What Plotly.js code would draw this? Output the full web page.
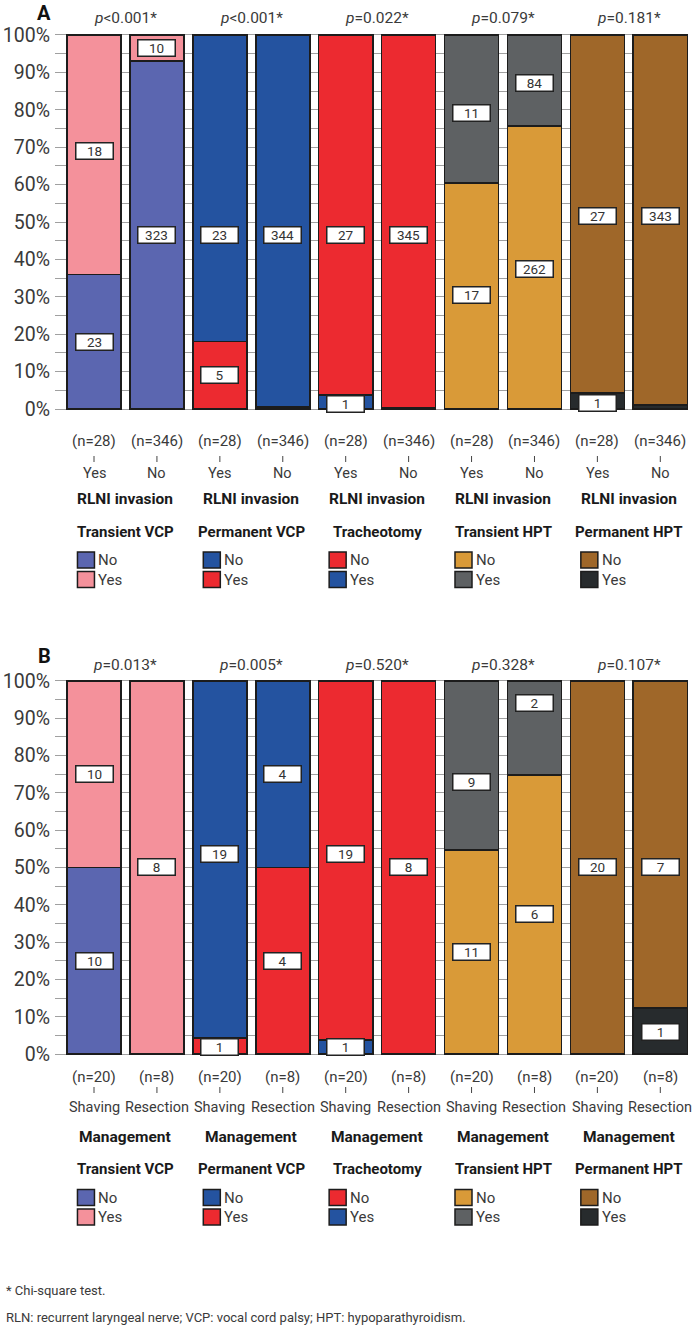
<!DOCTYPE html>
<html>
<head>
<meta charset="utf-8">
<script src="https://cdn.plot.ly/plotly-3.0.1.min.js"></script>
<style>
  html, body { margin: 0; padding: 0; background: #fff; }
  #chart { width: 698px; height: 1331px; }
</style>
</head>
<body>
<div id="chart"></div>
<script>
// ---------------- data ----------------
const outcomes = ["Transient VCP", "Permanent VCP", "Tracheotomy", "Transient HPT", "Permanent HPT"];
const bottomIsNo = [true, false, false, true, false];
const noColors  = ["#5b66b0", "#2453a0", "#ec2a30", "#d99a38", "#9f6729"];
const yesColors = ["#f4919b", "#ec2a30", "#2453a0", "#5e6163", "#272b2d"];

// Panel A: RLNI invasion
const pValuesA = ["&lt;0.001*", "&lt;0.001*", "=0.022*", "=0.079*", "=0.181*"];
const groupsA = ["Yes", "No"];
const nA = ["(n=28)", "(n=346)"];
const factorA = "RLNI invasion";
const aBottomPct = [36, 93, 18, 0.6, 3.7, 0.3, 60.4, 75.7, 4.3, 1.1];
const aTopPct    = [64, 7, 82, 99.4, 96.3, 99.7, 39.6, 24.3, 95.7, 98.9];
const aBottomLabel = ["23", "323", "5", "2", "1", "1", "17", "262", "1", "3"];
const aTopLabel    = ["18", "10", "23", "344", "27", "345", "11", "84", "27", "343"];
const aBottomLabelAt = [17.8, 46.5, 9, -2.2, 1.4, -2.2, 30.5, 37.4, 1.6, -1.1];
const aTopLabelAt    = [69.1, 96.5, 46.5, 46.5, 46.5, 46.5, 79.2, 87.2, 51.6, 51.6];

// Panel B: Management
const pValuesB = ["=0.013*", "=0.005*", "=0.520*", "=0.328*", "=0.107*"];
const groupsB = ["Shaving", "Resection"];
const nB = ["(n=20)", "(n=8)"];
const factorB = "Management";
const bBottomPct = [50, 0, 4.3, 50, 3.8, 0, 54.7, 74.8, 0, 12.3];
const bTopPct    = [50, 100, 95.7, 50, 96.2, 100, 45.3, 25.2, 100, 87.7];
const bBottomLabel = ["10", "", "1", "4", "1", "", "11", "6", "", "1"];
const bTopLabel    = ["10", "8", "19", "4", "19", "8", "9", "2", "20", "7"];
const bBottomLabelAt = [25, null, 2, 25, 2, null, 27.3, 37.4, null, 6];
const bTopLabelAt    = [75, 50, 53.5, 75, 53.5, 50, 73, 94, 50, 50];

const footnotes = ["* Chi-square test.", "RLN: recurrent laryngeal nerve; VCP: vocal cord palsy; HPT: hypoparathyroidism."];

// ---------------- layout helpers ----------------
const W = 698, H = 1331;
const FONT = "Roboto, 'Liberation Sans', sans-serif";
const TXT = "#3a3a3a";
const py = p => 1 - p / H;
const barIdx = [0,1,2,3,4,5,6,7,8,9];
const UNIT = 62.9; // px per category

const panels = [
  { xa: "x", ya: "y", letter: "A", bottom: aBottomPct, top: aTopPct, bl: aBottomLabel, tl: aTopLabel,
    blAt: aBottomLabelAt, tlAt: aTopLabelAt, pvals: pValuesA, groups: groupsA, ns: nA, factor: factorA,
    rows: { letter: 13, p: 18, n: 441, tick: [456, 462], grp: 474, factor: 499, outcome: 532, leg1: 560, leg2: 579.5 } },
  { xa: "x2", ya: "y2", letter: "B", bottom: bBottomPct, top: bTopPct, bl: bBottomLabel, tl: bTopLabel,
    blAt: bBottomLabelAt, tlAt: bTopLabelAt, pvals: pValuesB, groups: groupsB, ns: nB, factor: factorB,
    rows: { letter: 656, p: 665, n: 1077, tick: [1087, 1093], grp: 1107, factor: 1137, outcome: 1169, leg1: 1197.5, leg2: 1217 } }
];

const traces = [];
const annotations = [];
const shapes = [];

panels.forEach(P => {
  const bCol = barIdx.map(i => { const k = Math.floor(i / 2); return bottomIsNo[k] ? noColors[k] : yesColors[k]; });
  const tCol = barIdx.map(i => { const k = Math.floor(i / 2); return bottomIsNo[k] ? yesColors[k] : noColors[k]; });
  [[P.bottom, bCol], [P.top, tCol]].forEach(([vals, cols]) => {
    traces.push({
      type: "bar", x: barIdx, y: vals, xaxis: P.xa, yaxis: P.ya, width: 0.86,
      marker: { color: cols, line: { color: "#1c1c1c", width: 1.6 } },
      hoverinfo: "skip", showlegend: false
    });
  });
  // value labels
  barIdx.forEach(i => {
    [[P.bl[i], P.blAt[i]], [P.tl[i], P.tlAt[i]]].forEach(([t, at]) => {
      if (!t || at === null) return;
      annotations.push({
        xref: P.xa, yref: P.ya, x: i, y: at, text: t, showarrow: false,
        bgcolor: "#ffffff", bordercolor: "#222", borderwidth: 1.5, borderpad: 1,
        width: 34, height: 13, font: { family: FONT, size: 13.5, color: "#333" }
      });
    });
    // n labels and group labels
    annotations.push({ xref: P.xa, yref: "paper", x: i, y: py(P.rows.n), text: P.ns[i % 2], showarrow: false,
      font: { family: FONT, size: 15, color: TXT }, yanchor: "middle" });
    annotations.push({ xref: P.xa, yref: "paper", x: i, y: py(P.rows.grp), text: P.groups[i % 2], showarrow: false,
      font: { family: FONT, size: 14.5, color: TXT }, yanchor: "middle" });
    shapes.push({ type: "line", xref: P.xa, yref: "paper", x0: i, x1: i, y0: py(P.rows.tick[0]), y1: py(P.rows.tick[1]),
      line: { color: "#444", width: 1 } });
  });
  outcomes.forEach((o, k) => {
    const c = 2 * k + 0.5;
    annotations.push({ xref: P.xa, yref: "paper", x: c, y: py(P.rows.p), text: "<i>p</i>" + P.pvals[k], showarrow: false,
      font: { family: FONT, size: 15.5, color: TXT }, yanchor: "middle" });
    annotations.push({ xref: P.xa, yref: "paper", x: c, y: py(P.rows.factor), text: "<b>" + P.factor + "</b>", showarrow: false,
      font: { family: FONT, size: 15.5, color: "#1a1a1a" }, yanchor: "middle" });
    annotations.push({ xref: P.xa, yref: "paper", x: c, y: py(P.rows.outcome), text: "<b>" + o + "</b>", showarrow: false,
      font: { family: FONT, size: 15, color: "#1a1a1a" }, yanchor: "middle" });
    const x0 = c - 48 / UNIT, x1 = x0 + 17 / UNIT;
    [[P.rows.leg1, noColors[k], "No"], [P.rows.leg2, yesColors[k], "Yes"]].forEach(([row, col, lab]) => {
      shapes.push({ type: "rect", xref: P.xa, yref: "paper", x0: x0, x1: x1, y0: py(row + 8), y1: py(row - 8),
        fillcolor: col, line: { color: "#1c1c1c", width: 1.5 } });
      annotations.push({ xref: P.xa, yref: "paper", x: x1 + 2 / UNIT, y: py(row), text: lab, showarrow: false,
        xanchor: "left", yanchor: "middle", font: { family: FONT, size: 15, color: TXT } });
    });
  });
  annotations.push({ xref: "paper", yref: "paper", x: 44 / W, y: py(P.rows.letter), text: "<b>" + P.letter + "</b>",
    showarrow: false, xanchor: "center", yanchor: "middle", font: { family: FONT, size: 20, color: "#111" } });
});

footnotes.forEach((t, j) => {
  annotations.push({ xref: "paper", yref: "paper", x: 4 / W, y: py([1290, 1317][j]), text: t, showarrow: false,
    xanchor: "left", yanchor: "middle", font: { family: FONT, size: 13, color: TXT } });
});

const tickVals = []; const tickText = [];
for (let v = 0; v <= 100; v += 5) { tickVals.push(v); tickText.push(v % 10 === 0 ? v + "%" : ""); }

const xBase = { domain: [55 / W, 688 / W], range: [-0.62, 9.44], showgrid: false, zeroline: false,
  showticklabels: false, ticks: "", showline: false, fixedrange: true };
const yBase = { range: [-1, 100.8], tickvals: tickVals, ticktext: tickText, showgrid: true, gridcolor: "#a0a0a0",
  gridwidth: 1, zeroline: false, ticks: "", showline: false, ticklabelstandoff: 4,
  tickfont: { family: FONT, size: 19.5, color: TXT }, fixedrange: true };

const layout = {
  width: W, height: H, margin: { l: 0, r: 0, t: 0, b: 0 },
  paper_bgcolor: "#fff", plot_bgcolor: "#fff", barmode: "stack", showlegend: false,
  font: { family: FONT, color: TXT },
  xaxis: Object.assign({}, xBase, { anchor: "y" }),
  xaxis2: Object.assign({}, xBase, { anchor: "y2" }),
  yaxis: Object.assign({}, yBase, { domain: [py(412.74), py(32.0)], anchor: "x" }),
  yaxis2: Object.assign({}, yBase, { domain: [py(1057.73), py(678.0)], anchor: "x2" }),
  annotations: annotations, shapes: shapes
};

Plotly.newPlot("chart", traces, layout, { staticPlot: true, displayModeBar: false });
</script>
</body>
</html>
